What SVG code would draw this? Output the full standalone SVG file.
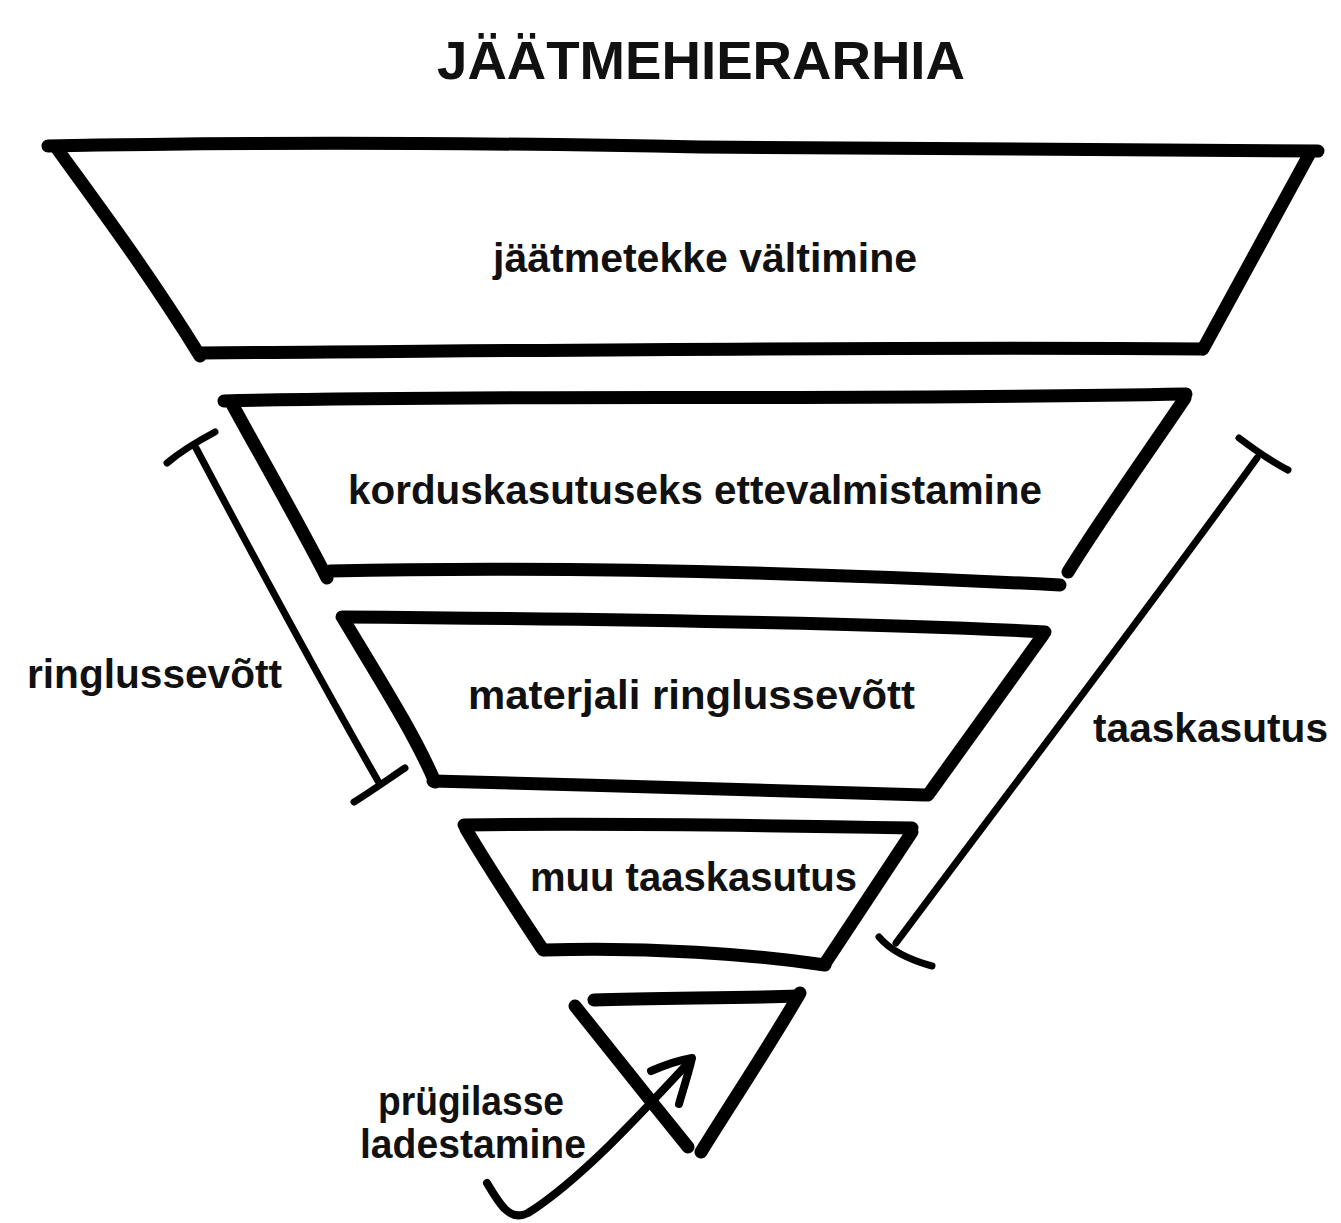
<svg xmlns="http://www.w3.org/2000/svg" width="1341" height="1223" viewBox="0 0 1341 1223">
  <style>
    .ink { fill: none; stroke: #000; stroke-linecap: round; stroke-linejoin: round; }
    .thick { stroke-width: 13; }
    .mid { stroke-width: 8; }
    .thin { stroke-width: 7; }
    .lbl { font-family: "Liberation Sans", "DejaVu Sans", sans-serif; font-weight: bold; font-size: 40px; fill: #111; }
    .title { font-family: "Liberation Sans", "DejaVu Sans", sans-serif; font-weight: bold; font-size: 54px; fill: #111; }
  </style>
  <rect width="1341" height="1223" fill="#fff"/>

  <text class="title" x="437" y="79" textLength="528" lengthAdjust="spacingAndGlyphs">JÄÄTMEHIERARHIA</text>

  <!-- tier 1: prevention -->
  <g id="tier-prevention">
    <path class="ink thick" d="M48 146 C 300 141, 560 144, 700 147 C 900 150, 1100 151, 1318 151"/>
    <path class="ink thick" d="M58 150 C 100 208, 150 275, 200 356"/>
    <path class="ink thick" d="M200 353 C 500 351, 900 346, 1202 349"/>
    <path class="ink thick" d="M1310 153 L 1203 349"/>
    <text class="lbl" x="493" y="272" textLength="424" lengthAdjust="spacingAndGlyphs">jäätmetekke vältimine</text>
  </g>

  <!-- tier 2: preparing for re-use -->
  <g id="tier-reuse">
    <path class="ink thick" d="M224 401 C 500 394, 800 401, 1186 394"/>
    <path class="ink thick" d="M232 404 C 260 455, 300 525, 327 578"/>
    <path class="ink thick" d="M330 571 C 600 565, 900 577, 1060 585"/>
    <path class="ink thick" d="M1185 398 C 1150 450, 1100 520, 1068 572"/>
    <text class="lbl" x="348" y="504" textLength="694" lengthAdjust="spacingAndGlyphs">korduskasutuseks ettevalmistamine</text>
  </g>

  <!-- tier 3: material recycling -->
  <g id="tier-recycling">
    <path class="ink thick" d="M342 617 C 600 619, 900 624, 1045 632"/>
    <path class="ink thick" d="M344 620 C 380 680, 415 735, 435 782"/>
    <path class="ink thick" d="M433 781 C 600 786, 800 790, 925 795"/>
    <path class="ink thick" d="M1043 635 C 1000 695, 960 750, 928 795"/>
    <text class="lbl" x="468" y="709" textLength="447" lengthAdjust="spacingAndGlyphs">materjali ringlussevõtt</text>
  </g>

  <!-- tier 4: other recovery -->
  <g id="tier-recovery">
    <path class="ink thick" d="M464 825 C 600 823, 800 826, 912 828"/>
    <path class="ink thick" d="M466 829 C 490 870, 520 915, 543 950"/>
    <path class="ink thick" d="M545 950 C 650 947, 750 954, 825 965"/>
    <path class="ink thick" d="M912 832 C 880 880, 850 925, 826 962"/>
    <text class="lbl" x="530" y="891" textLength="327" lengthAdjust="spacingAndGlyphs">muu taaskasutus</text>
  </g>

  <!-- tier 5: landfill -->
  <g id="tier-landfill">
    <path class="ink thick" d="M594 1000 C 660 998, 740 998, 797 996"/>
    <path class="ink thick" d="M575 1006 C 610 1050, 650 1100, 688 1147"/>
    <path class="ink thick" d="M800 993 C 770 1045, 730 1105, 701 1152"/>
  </g>

  <!-- side labels -->
  <g id="label-recycling">
    <text class="lbl" x="27" y="688" textLength="255" lengthAdjust="spacingAndGlyphs">ringlussevõtt</text>
  </g>
  <g id="label-recovery">
    <text class="lbl" x="1093" y="742" textLength="235" lengthAdjust="spacingAndGlyphs">taaskasutus</text>
  </g>
  <g id="label-landfill">
    <text class="lbl" x="378" y="1115" textLength="186" lengthAdjust="spacingAndGlyphs">prügilasse</text>
    <text class="lbl" x="360" y="1158" textLength="226" lengthAdjust="spacingAndGlyphs">ladestamine</text>
  </g>

  <!-- range brackets and landfill arrow -->
  <g id="connectors">
    <path class="ink thin" d="M196 448 C 250 550, 320 680, 378 781"/>
    <path class="ink thin" d="M167 463 C 180 452, 200 440, 215 432"/>
    <path class="ink thin" d="M354 802 C 370 792, 390 778, 405 768"/>

    <path class="ink thin" d="M1257 458 C 1140 620, 1010 790, 896 943"/>
    <path class="ink thin" d="M1239 438 C 1255 450, 1272 462, 1288 470"/>
    <path class="ink thin" d="M879 937 C 890 950, 910 960, 932 966"/>

    <path class="ink mid" d="M487 1183 C 500 1205, 510 1222, 528 1213 C 580 1180, 640 1115, 691 1060"/>
    <path class="ink mid" d="M651 1071 C 665 1065, 680 1060, 692 1058 C 688 1075, 683 1090, 679 1104"/>
  </g>
</svg>
